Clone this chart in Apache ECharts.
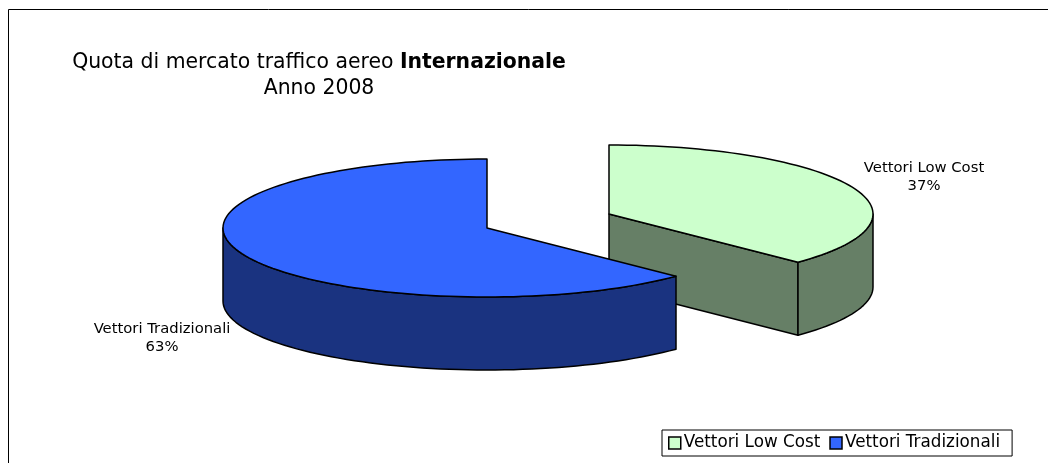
<!DOCTYPE html>
<html>
<head>
<meta charset="utf-8">
<style>
  html, body { margin: 0; padding: 0; background: #fff; }
  #chart { width: 1048px; height: 463px; }
</style>
<script src="https://cdn.jsdelivr.net/npm/echarts@6/dist/echarts.min.js"></script>
</head>
<body>
<div id="chart"></div>
<script>
var categories = ['Vettori Low Cost', 'Vettori Tradizionali'];
var shares = [37.3, 62.7];
var topColors = ['#ccffcc', '#3366ff'];
var sideColors = ['#667f66', '#1a3380'];

var FONT = '"DejaVu Sans", Verdana, sans-serif';
var RX = 264, RY = 69, DEPTH = 73;
// apex of each slice on the canvas (green one is pulled out)
var apex = [[609, 214], [487, 228]];
var labelPos = [[924, 177], [162, 338]];

var total = shares[0] + shares[1];

// clockwise from 12 o'clock, on the squashed circle
function rimPoint(c, deg, dy){
  var a = deg * Math.PI / 180;
  return [c[0] + RX * Math.sin(a), c[1] - RY * Math.cos(a) + (dy || 0)];
}
function rim(c, from, to, dy){
  var pts = [];
  var steps = Math.max(2, Math.ceil(Math.abs(to - from) / 2));
  for( var i = 0 ; i <= steps ; i++ ){
    pts.push(rimPoint(c, from + (to - from) * i / steps, dy));
  }
  return pts;
}
function lineStyle(color){
  return {fill: color, stroke: '#000', lineWidth: 1.5, lineJoin: 'round'};
}

function renderSlice(idx){
  return function(params, api){
    var c = apex[idx];
    var start = 0;
    for( var i = 0 ; i < idx ; i++ ){
      start += shares[i] / total * 360;
    }
    var end = start + api.value(0) / total * 360;
    var children = [];

    // radial cut wall, only the first slice shows it
    if( idx == 0 ){
      var p = rimPoint(c, end);
      children.push({type: 'polygon', shape: {points: [c, p, [p[0], p[1] + DEPTH], [c[0], c[1] + DEPTH]]},
        style: lineStyle(sideColors[idx])});
    }
    // outer wall, the part below the widest point of the ellipse
    var wallFrom = Math.max(start, 90);
    var wallTo = Math.min(end, 270);
    var wall = rim(c, wallFrom, wallTo, 0).concat(rim(c, wallTo, wallFrom, DEPTH));
    children.push({type: 'polygon', shape: {points: wall}, style: lineStyle(sideColors[idx])});
    // top face
    children.push({type: 'polygon', shape: {points: [c].concat(rim(c, start, end, 0))},
      style: lineStyle(topColors[idx])});
    // label
    children.push({type: 'text', style: {
      x: labelPos[idx][0], y: labelPos[idx][1],
      text: categories[idx] + '\n' + Math.round(api.value(0)) + '%',
      align: 'center', verticalAlign: 'middle',
      font: '14.8px ' + FONT, lineHeight: 18, fill: '#000'
    }});
    return {type: 'group', children: children};
  };
}

var chart = echarts.init(document.getElementById('chart'), null, {renderer: 'canvas'});
chart.setOption({
  animation: false,
  backgroundColor: '#fff',
  title: {
    text: 'Quota di mercato traffico aereo {b|Internazionale}\nAnno 2008',
    left: 314, top: 45, textAlign: 'center',
    textStyle: {
      fontFamily: FONT, fontSize: 20.4, fontWeight: 'normal', color: '#000', lineHeight: 26,
      rich: {b: {fontFamily: FONT, fontSize: 20.4, fontWeight: 'bold', color: '#000', lineHeight: 26}}
    }
  },
  legend: {
    data: categories,
    left: 662, top: 430,
    orient: 'horizontal',
    itemWidth: 12, itemHeight: 12, itemGap: 9,
    padding: [4.5, 12, 4.5, 6],
    icon: 'rect',
    borderColor: '#000', borderWidth: 1,
    itemStyle: {borderColor: '#000', borderWidth: 1.5},
    textStyle: {fontFamily: FONT, fontSize: 16.8, color: '#000', padding: [0, 0, 0, -2]}
  },
  graphic: [
    {type: 'polyline', shape: {points: [[8.5, 463], [8.5, 9.5], [1048, 9.5]]},
      style: {stroke: '#000', fill: null, lineWidth: 1}}
  ],
  series: categories.map(function(name, idx){
    return {
      type: 'custom',
      name: name,
      coordinateSystem: 'none',
      itemStyle: {color: topColors[idx]},
      data: [[shares[idx]]],
      encode: {value: 0},
      z: 2 + idx,
      renderItem: renderSlice(idx)
    };
  })
});
</script>
</body>
</html>
